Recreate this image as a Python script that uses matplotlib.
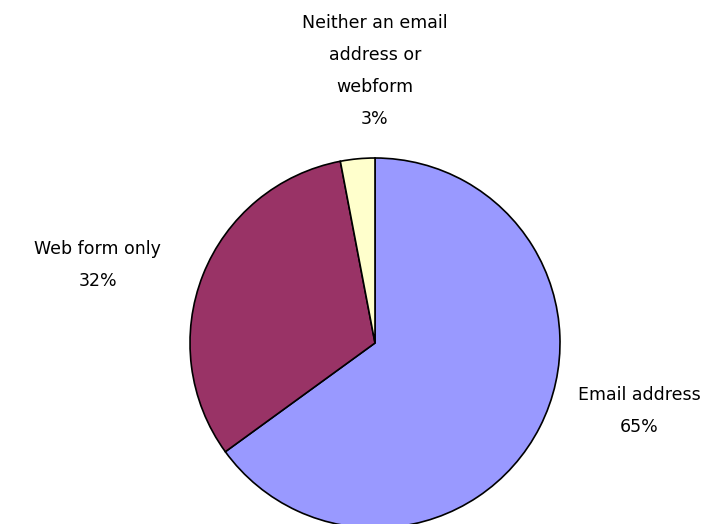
import matplotlib
matplotlib.use('Agg')
import matplotlib.pyplot as plt

labels = ['Email address', 'Web form only', 'Neither an email\naddress or\nwebform']
values = [65, 32, 3]
colors = ['#9999FF', '#993366', '#FFFFCC']
label_pos = [(1.43, -0.37), (-1.50, 0.42), (0.0, 1.47)]

fig = plt.figure(figsize=(7.15, 5.24), dpi=100)
fig.patch.set_facecolor('white')

# pie centre ~ (375, 343) px, radius ~185 px
r = 185
ax = fig.add_axes([(375 - r) / 715, (181 - r) / 524, 2 * r / 715, 2 * r / 524])
wedges, _ = ax.pie(values, colors=colors, startangle=90, counterclock=False,
                   wedgeprops=dict(edgecolor='black', linewidth=1.2))
for w in wedges:
    w.set_clip_on(False)
ax.set_xlim(-1, 1)
ax.set_ylim(-1, 1)
ax.set_aspect('equal')
ax.axis('off')

for lab, v, (x, y) in zip(labels, values, label_pos):
    ax.text(x, y, f'{lab}\n{v}%', ha='center', va='center', fontsize=12.5,
            linespacing=2.0, clip_on=False)

plt.savefig('out.png', dpi=100)
